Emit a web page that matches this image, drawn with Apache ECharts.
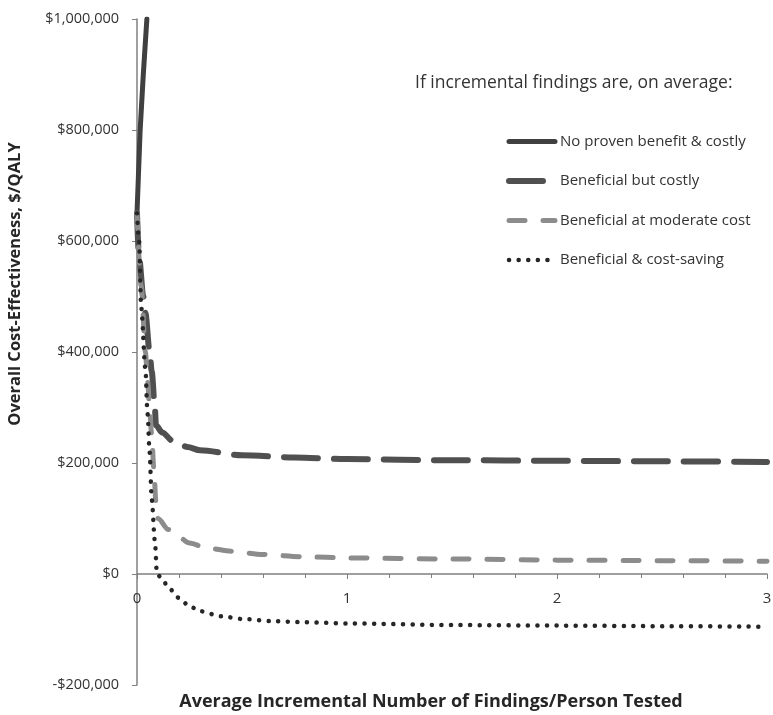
<!DOCTYPE html>
<html>
<head>
<meta charset="utf-8">
<script src="https://cdn.jsdelivr.net/npm/echarts@6/dist/echarts.min.js"></script>
<style>
    html, body { margin: 0; padding: 0; background: #fff; }
    #cn { width: 773px; height: 715px; }
</style>
</head>
<body>
<div id="cn"></div>
<script>
'use strict';

const seriesNames = [
    'No proven benefit & costly',
    'Beneficial but costly',
    'Beneficial at moderate cost',
    'Beneficial & cost-saving'
];

// [findings per person, $/QALY]
const noBenefit = [[0, 650000], [0.005, 700000], [0.015, 800000], [0.03, 900000], [0.047, 1000000]];

const benefitCostly = [
    [0, 650000], [0.01, 570000], [0.03, 500000], [0.04, 470000], [0.06, 400000], [0.07, 365000],
    [0.085, 300000], [0.09, 268000], [0.12, 255000], [0.17, 240000], [0.24, 229000], [0.3, 223000],
    [0.5, 214000], [0.75, 210000], [1, 207000], [1.5, 205000], [2, 204000], [2.5, 203000], [3, 202000]
];

const benefitModerate = [
    [0, 650000], [0.02, 520000], [0.04, 400000], [0.05, 350000], [0.06, 300000], [0.07, 250000],
    [0.08, 190000], [0.09, 130000], [0.1, 100000], [0.15, 80000], [0.2, 66000], [0.25, 56000],
    [0.33, 47000], [0.45, 41000], [0.6, 35000], [0.8, 31000], [1, 29000], [1.5, 27000],
    [2, 25000], [2.5, 24000], [3, 23000]
];

const costSaving = [
    [0, 650000], [0.01, 600000], [0.02, 480000], [0.04, 370000], [0.05, 290000], [0.06, 220000],
    [0.07, 135000], [0.085, 60000], [0.095, 0], [0.12, -9000], [0.15, -25000], [0.2, -43000],
    [0.25, -58000], [0.3, -67000], [0.4, -76000], [0.5, -81000], [0.65, -85000], [0.8, -87000],
    [1, -89000], [1.5, -92000], [2, -93000], [2.5, -94000], [3, -95000]
];

const yTicks = [-200000, 0, 200000, 400000, 600000, 800000, 1000000];

const fontFam = '"Open Sans", "Liberation Sans", sans-serif';

const gridTop = 19;
const gridBottom = 30;
const chartH = 715;
// x axis sits on y = 0 (onZero does not take effect here, so shift it with offset)
const plotH = chartH - gridTop - gridBottom;
const yMin = yTicks[0];
const yMax = yTicks[yTicks.length - 1];
const xAxisOffset = -Math.round(plotH * (0 - yMin) / (yMax - yMin));

const fmtMoney = (v) => {
    const s = '$' + Math.abs(v).toLocaleString('en-US');
    return v < 0 ? '-' + s : s;
};

const lineSeries = (name, data, color, width, dash, smooth) => ({
    name: name,
    type: 'line',
    data: data,
    symbol: 'none',
    showSymbol: false,
    smooth: smooth,
    smoothMonotone: 'x',
    clip: true,
    lineStyle: {
        color: color,
        width: width,
        type: dash,
        cap: 'round'
    },
    itemStyle: {
        color: color
    }
});

const chart = echarts.init(document.getElementById('cn'));

chart.setOption({
    animation: false,
    textStyle: { fontFamily: fontFam },
    title: {
        text: 'If incremental findings are, on average:',
        left: 410,
        top: 69,
        textStyle: {
            fontFamily: fontFam,
            fontSize: 17.5,
            fontWeight: 'normal',
            color: '#333'
        }
    },
    legend: {
        orient: 'vertical',
        left: 506,
        top: 134,
        padding: 0,
        itemWidth: 46,
        itemHeight: 14,
        itemGap: 24.5,
        itemStyle: { opacity: 0 },
        lineStyle: { width: 'inherit' },
        textStyle: {
            fontFamily: fontFam,
            fontSize: 15,
            color: '#333'
        },
        data: seriesNames
    },
    grid: {
        left: 137,
        right: 6,
        top: gridTop,
        bottom: gridBottom,
        outerBoundsMode: 'none'
    },
    xAxis: {
        type: 'value',
        position: 'bottom',
        offset: xAxisOffset,
        min: 0,
        max: 3,
        interval: 1,
        name: 'Average Incremental Number of Findings/Person Tested',
        nameLocation: 'middle',
        nameGap: 119,
        nameTextStyle: {
            fontFamily: fontFam,
            fontSize: 18,
            fontWeight: 'bold',
            color: '#262626',
            padding: [0, 42, 0, 0]
        },
        axisLine: { show: true, onZero: false, lineStyle: { color: '#808080', width: 1.5 } },
        axisTick: { show: true, length: 5, lineStyle: { color: '#808080' } },
        minorTick: { show: true, splitNumber: 5, length: 4, lineStyle: { color: '#808080' } },
        axisLabel: {
            margin: 17,
            fontSize: 15,
            color: '#333'
        },
        splitLine: { show: false }
    },
    yAxis: {
        type: 'value',
        min: yMin,
        max: yMax,
        interval: 200000,
        name: 'Overall Cost-Effectiveness, $/QALY',
        nameLocation: 'middle',
        nameGap: 113,
        nameTextStyle: {
            fontFamily: fontFam,
            fontSize: 16.5,
            fontWeight: 'bold',
            color: '#262626',
            padding: [0, 0, 0, 136]
        },
        axisLine: { show: true, onZero: false, lineStyle: { color: '#808080', width: 1.5 } },
        axisTick: { show: true, length: 5, lineStyle: { color: '#808080' } },
        axisLabel: {
            margin: 18,
            fontSize: 14.5,
            color: '#333',
            formatter: fmtMoney
        },
        splitLine: { show: false }
    },
    series: [
        lineSeries(seriesNames[0], noBenefit, '#404040', 5, 'solid', false),
        lineSeries(seriesNames[1], benefitCostly, '#505050', 6, [34, 16], 0.3),
        lineSeries(seriesNames[2], benefitModerate, '#8c8c8c', 5, [16, 18], 0.3),
        lineSeries(seriesNames[3], costSaving, '#262626', 4.5, [0.1, 9.5], 0.3)
    ]
});
</script>
</body>
</html>
